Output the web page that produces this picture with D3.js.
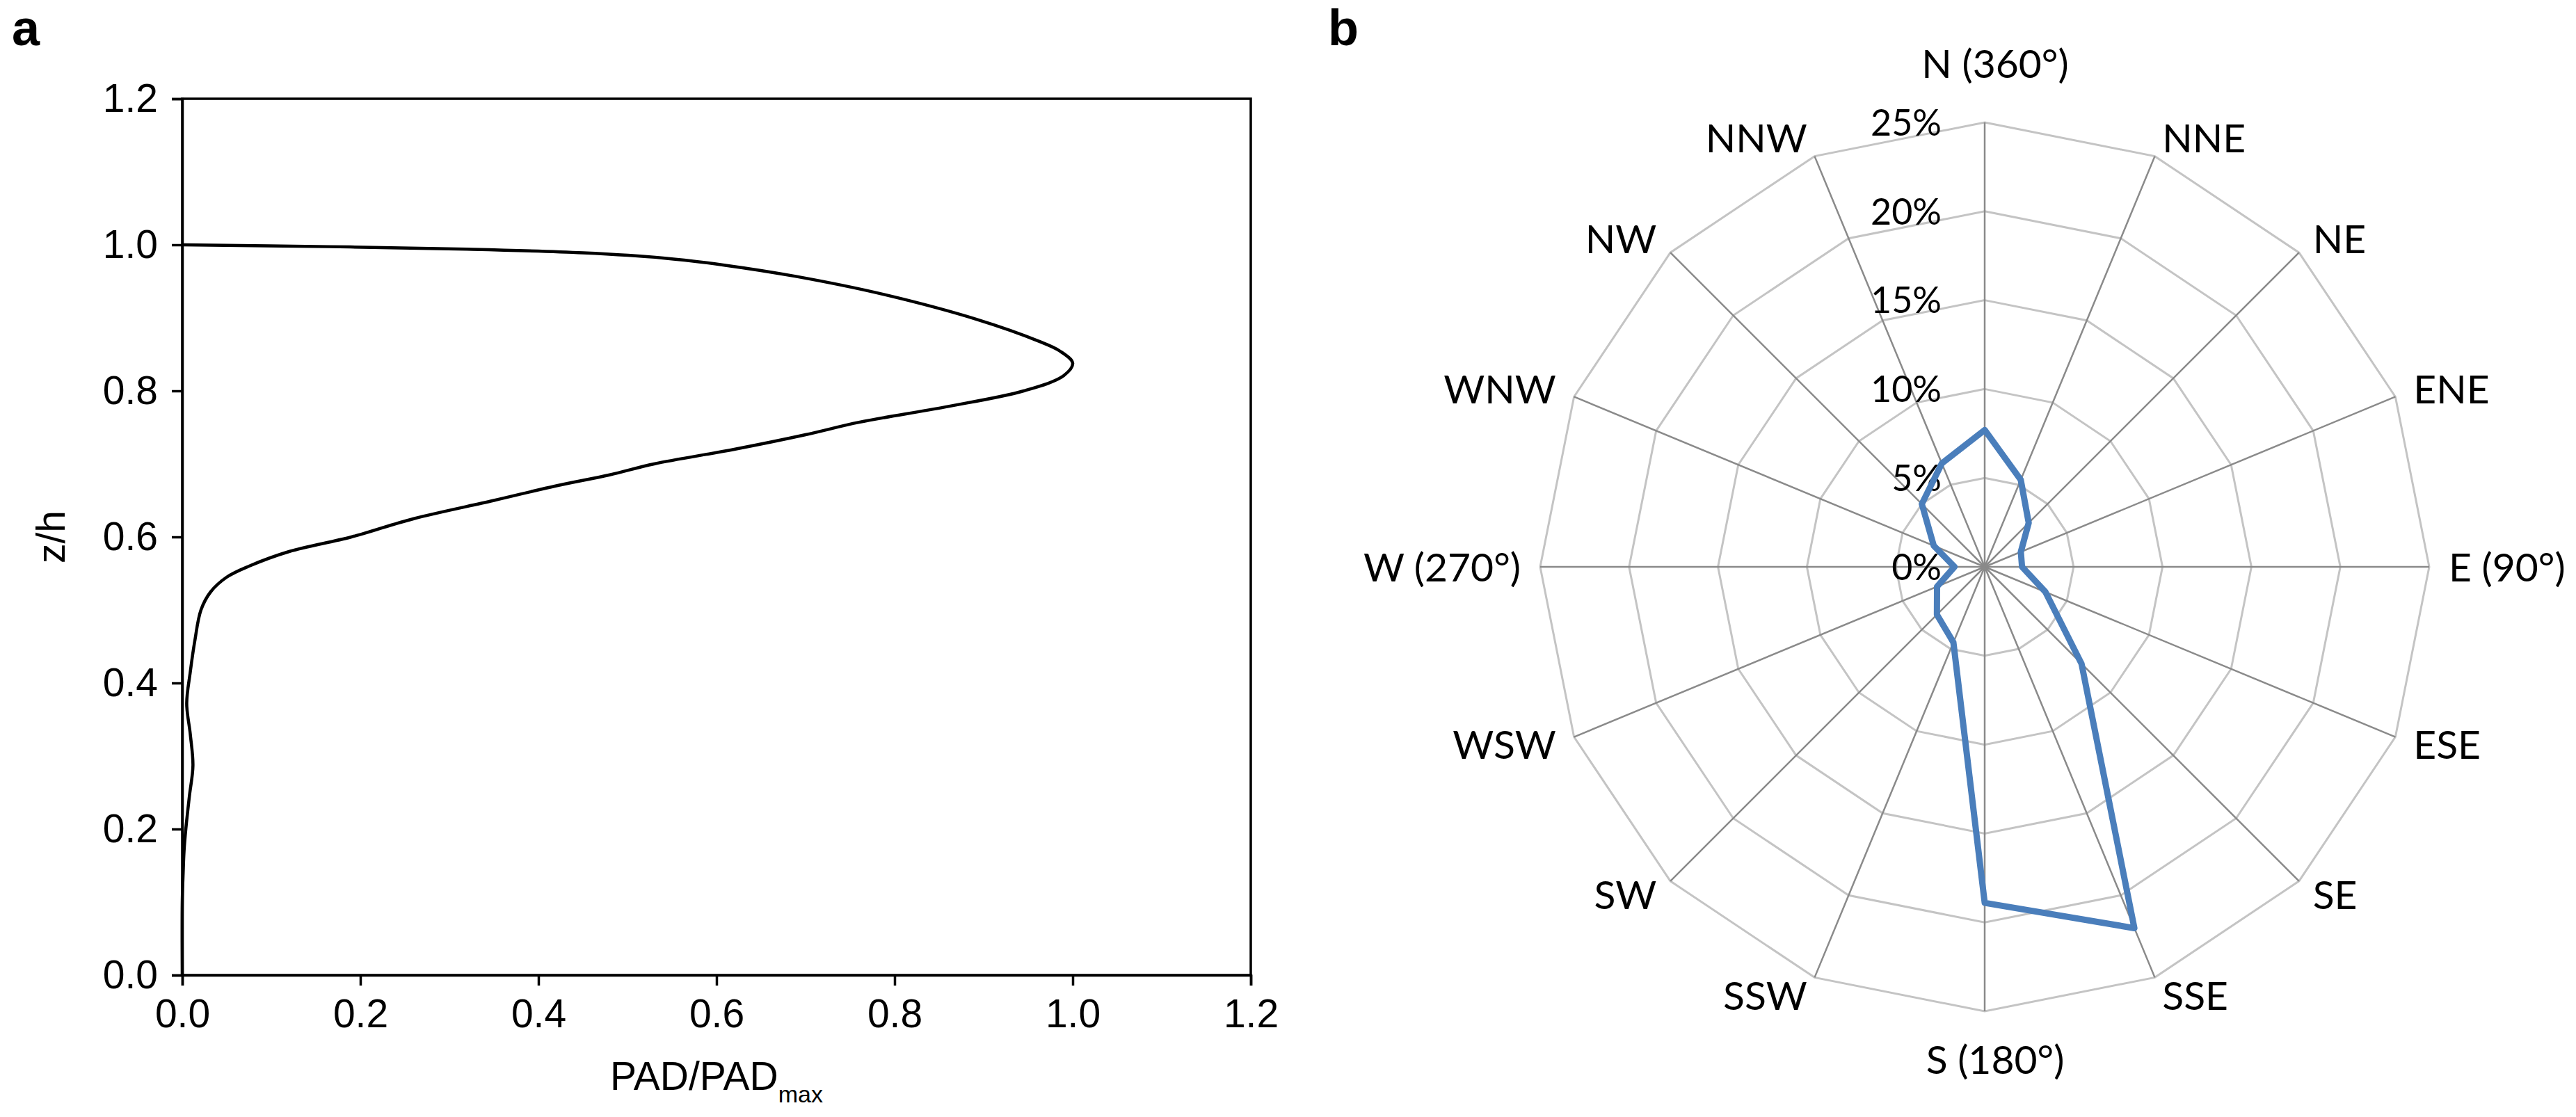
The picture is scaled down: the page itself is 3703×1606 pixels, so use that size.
<!DOCTYPE html>
<html><head><meta charset="utf-8">
<script src="https://cdn.jsdelivr.net/npm/d3@7"></script>
<style>html,body{margin:0;padding:0;background:#fff;}svg{display:block;}</style>
</head><body>
<svg id="chart" width="3703" height="1606"></svg>
<script>
// ---------- Panel a data ----------
const zValues   = [0.000,0.100,0.140,0.170,0.200,0.245,0.287,0.330,0.372,0.415,0.457,0.500,0.525,0.545,0.560,0.580,0.600,0.625,0.650,0.670,0.685,0.700,0.720,0.740,0.757,0.778,0.800,0.821,0.838,0.855,0.868,0.898,0.932,0.957,0.972,0.982,0.989,0.994,0.9975,1.000];
const padValues = [0.000,0.000,0.001,0.002,0.004,0.008,0.012,0.009,0.005,0.009,0.014,0.021,0.032,0.050,0.075,0.120,0.190,0.260,0.350,0.420,0.480,0.530,0.620,0.700,0.760,0.857,0.945,0.990,1.000,0.985,0.962,0.892,0.788,0.688,0.610,0.540,0.450,0.320,0.165,0.000];
const axisTicksA = [0.0,0.2,0.4,0.6,0.8,1.0,1.2];

// ---------- Panel b data ----------
const directions = ["N (360°)","NNE","NE","ENE","E (90°)","ESE","SE","SSE","S (180°)","SSW","SW","WSW","W (270°)","WNW","NW","NNW"];
const frequency  = [7.7,5.3,3.5,2.2,2.1,3.7,7.7,22.0,18.9,4.6,3.8,2.9,1.7,3.1,5.0,6.3];
const ringTicks  = [0,5,10,15,20,25];
const ringLabels = ["0%","5%","10%","15%","20%","25%"];

const svg = d3.select("#chart");

// ================= Panel a =================
const A = {left:262, right:1798, top:142, bottom:1402};
const xA = d3.scaleLinear().domain([0,1.2]).range([A.left, A.right]);
const yA = d3.scaleLinear().domain([0,1.2]).range([A.bottom, A.top]);
const fontA = "'Liberation Sans', Arial, sans-serif";

const gA = svg.append("g");
gA.append("rect").attr("x",A.left).attr("y",A.top)
  .attr("width",A.right-A.left).attr("height",A.bottom-A.top)
  .attr("fill","none").attr("stroke","#000").attr("stroke-width",3.5);

const xAxisA = d3.axisBottom(xA).tickValues(axisTicksA).tickFormat(d3.format(".1f")).tickSize(15).tickPadding(20);
const yAxisA = d3.axisLeft(yA).tickValues(axisTicksA).tickFormat(d3.format(".1f")).tickSize(15).tickPadding(20);

const gx = gA.append("g").attr("transform",`translate(0,${A.bottom})`).call(xAxisA);
const gy = gA.append("g").attr("transform",`translate(${A.left},0)`).call(yAxisA);
[gx,gy].forEach(g=>{
  g.select(".domain").attr("stroke","#000").attr("stroke-width",3.5);
  g.selectAll(".tick line").attr("stroke","#000").attr("stroke-width",3.5);
  g.selectAll(".tick text").attr("fill","#000").style("font-family",fontA).style("font-size","57px");
});

const pts = zValues.map((z,i)=>({z, p:padValues[i]}));
gA.append("path").datum(pts)
  .attr("fill","none").attr("stroke","#000").attr("stroke-width",4.5).attr("stroke-linejoin","round")
  .attr("d", d3.line().x(d=>xA(d.p)).y(d=>yA(d.z)).curve(d3.curveCatmullRom.alpha(0.5)));

const xt = gA.append("text").attr("x",(A.left+A.right)/2).attr("y",1567)
  .attr("text-anchor","middle").style("font-family",fontA).style("font-size","57px").attr("fill","#000");
xt.append("tspan").text("PAD/PAD");
xt.append("tspan").attr("dy",18).style("font-size","34px").text("max");

gA.append("text").attr("transform",`translate(93,${(A.top+A.bottom)/2}) rotate(-90)`)
  .attr("text-anchor","middle").style("font-family",fontA).style("font-size","57px").attr("fill","#000").text("z/h");

svg.append("text").attr("x",17).attr("y",65).style("font-family",fontA).style("font-weight","bold").style("font-size","72px").text("a");
svg.append("text").attr("x",1909).attr("y",65).style("font-family",fontA).style("font-weight","bold").style("font-size","72px").text("b");

// ================= Panel b =================
const cx = 2853, cy = 815, R = 639;
const fontB = "Lato, 'Open Sans', sans-serif";
const rB = d3.scaleLinear().domain([0,25]).range([0,R]);
const n = directions.length;
const ang = i => i*2*Math.PI/n;

const gB = svg.append("g").attr("transform",`translate(${cx},${cy})`);

const ringLine = d3.lineRadial().angle((d,i)=>ang(i)).radius(d=>rB(d)).curve(d3.curveLinearClosed);
ringTicks.filter(t=>t>0).forEach(t=>{
  gB.append("path").datum(directions.map(()=>t))
    .attr("d",ringLine).attr("fill","none").attr("stroke","#c4c4c4").attr("stroke-width",3);
});
gB.selectAll("line.spoke").data(directions).join("line").attr("class","spoke")
  .attr("x1",0).attr("y1",0)
  .attr("x2",(d,i)=>rB(25)*Math.sin(ang(i)))
  .attr("y2",(d,i)=>-rB(25)*Math.cos(ang(i)))
  .attr("stroke","#8a8a8a").attr("stroke-width",2.5);

gB.selectAll("text.rl").data(ringTicks).join("text").attr("class","rl")
  .attr("x",-62).attr("y",d=>-rB(d)).attr("dy","0.36em")
  .attr("text-anchor","end").style("font-family",fontB).style("font-size","52px").attr("fill","#000")
  .text((d,i)=>ringLabels[i]);

const dataLine = d3.lineRadial().angle((d,i)=>ang(i)).radius(d=>rB(d)).curve(d3.curveLinearClosed);
gB.append("path").datum(frequency).attr("d",dataLine)
  .attr("fill","none").attr("stroke","#4A7EBB").attr("stroke-width",9).attr("stroke-linejoin","round");

const gap = 28;
directions.forEach((lab,i)=>{
  const a = ang(i), s = Math.sin(a), c = Math.cos(a);
  const vx = rB(25)*s, vy = -rB(25)*c;
  const t = gB.append("text").style("font-family",fontB).style("font-size","57px").attr("fill","#000").text(lab);
  if (Math.abs(s) < 0.01) {
    t.attr("text-anchor","middle").attr("x", vx + 15);
    if (c > 0) t.attr("y", vy - gap - 36);
    else t.attr("y", vy + gap + 62);
  } else {
    t.attr("text-anchor", s > 0 ? "start" : "end")
     .attr("x", vx + gap*s).attr("y", vy - gap*c).attr("dy","0.36em");
  }
});
</script>
</body></html>
